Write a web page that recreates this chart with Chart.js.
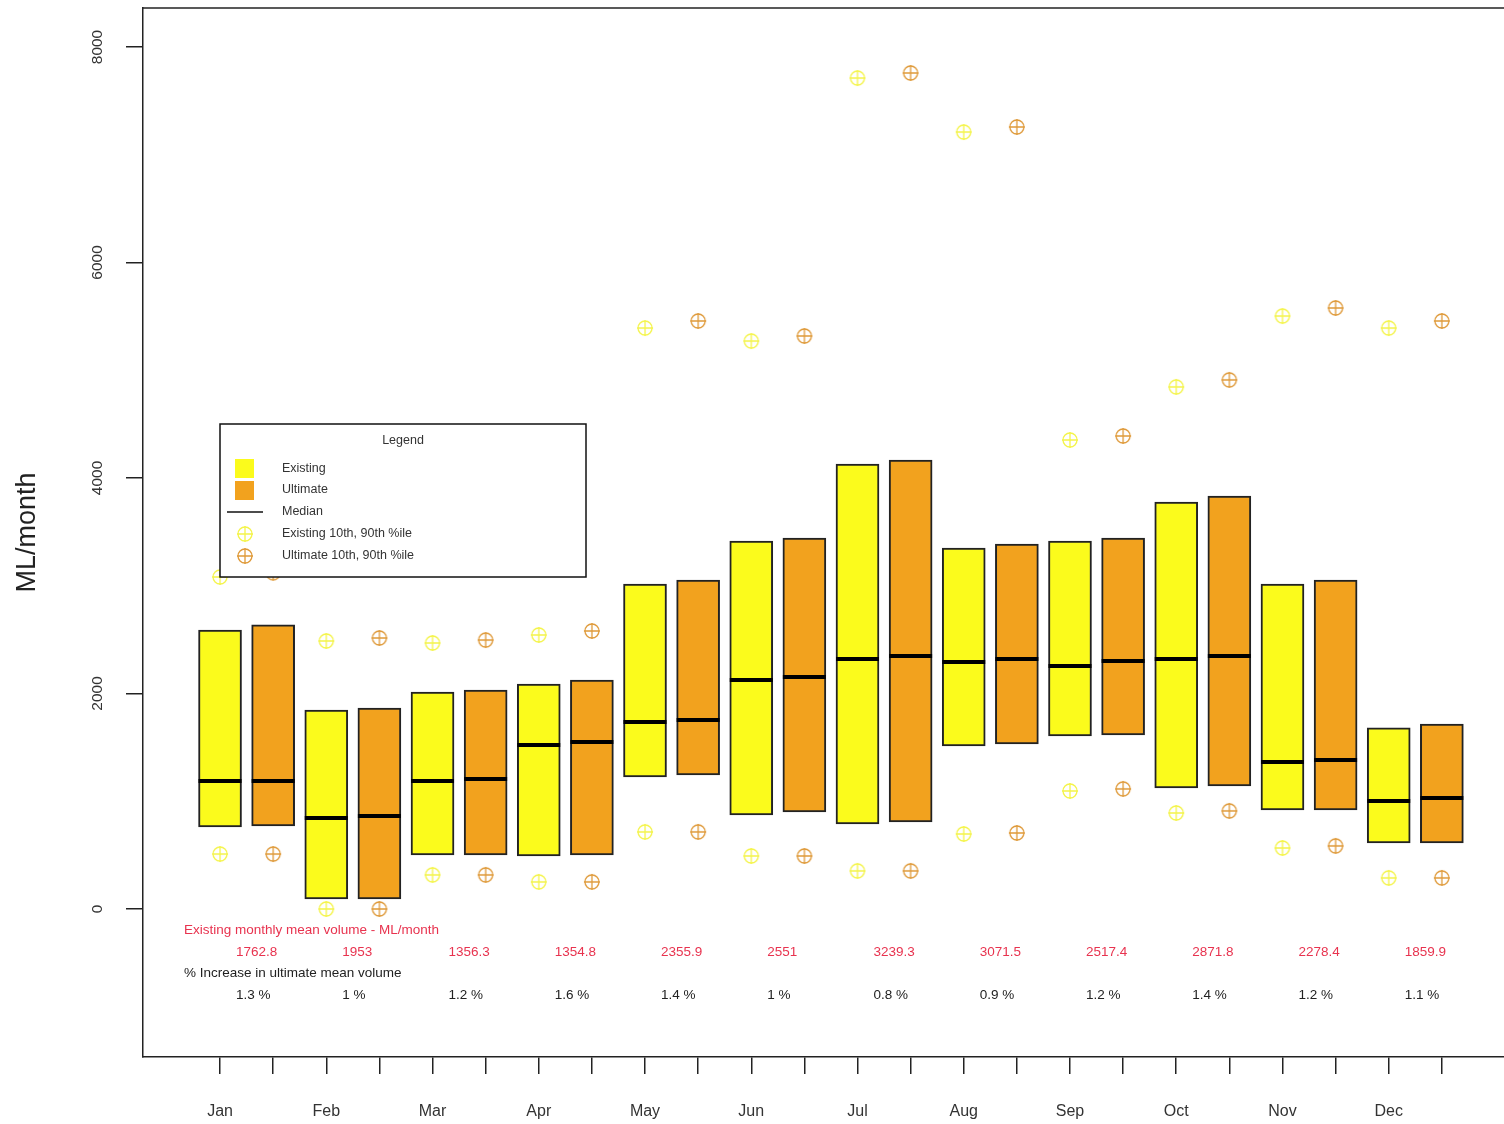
<!DOCTYPE html>
<html>
<head>
<meta charset="utf-8">
<script src="https://cdn.jsdelivr.net/npm/chart.js@4.4.1/dist/chart.umd.min.js"></script>
<style>
  html, body { margin: 0; padding: 0; background: #fff; overflow: hidden; }
  #wrap { width: 1504px; height: 1124px; }
</style>
</head>
<body>
<div id="wrap"><canvas id="volChart" width="1504" height="1124"></canvas></div>
<script>
// monthly volume ranges, existing vs ultimate (ML/month)
var months = ['Jan', 'Feb', 'Mar', 'Apr', 'May', 'Jun', 'Jul', 'Aug', 'Sep', 'Oct', 'Nov', 'Dec'];

var existLow  = [761, 93, 501, 492, 1225, 872, 789, 1513, 1606, 1123, 919, 613];
var existHigh = [2589, 1847, 2014, 2088, 3016, 3415, 4130, 3350, 3415, 3777, 3016, 1680];
var existMed  = [1188, 845, 1188, 1522, 1735, 2125, 2320, 2292, 2255, 2320, 1364, 1002];
var existP10  = [510, 0, 316, 251, 715, 492, 353, 696, 1095, 891, 566, 288];
var existP90  = [3081, 2487, 2469, 2543, 5392, 5271, 7712, 7211, 4353, 4845, 5503, 5392];

var ultLow  = [770, 93, 501, 501, 1244, 900, 807, 1531, 1615, 1142, 919, 613];
var ultHigh = [2636, 1865, 2032, 2125, 3053, 3443, 4167, 3387, 3443, 3833, 3053, 1717];
var ultMed  = [1188, 863, 1206, 1550, 1754, 2153, 2348, 2320, 2302, 2348, 1383, 1030];
var ultP10  = [510, 0, 316, 251, 715, 492, 353, 705, 1114, 910, 585, 288];
var ultP90  = [3120, 2515, 2496, 2580, 5457, 5318, 7759, 7258, 4390, 4910, 5578, 5457];

var meanExisting = ['1762.8', '1953', '1356.3', '1354.8', '2355.9', '2551', '3239.3', '3071.5', '2517.4', '2871.8', '2278.4', '1859.9'];
var pctIncrease = ['1.3 %', '1 %', '1.2 %', '1.6 %', '1.4 %', '1 %', '0.8 %', '0.9 %', '1.2 %', '1.4 %', '1.2 %', '1.1 %'];

var yTicks = [0, 2000, 4000, 6000, 8000];

var YELLOW = '#fbfb1c';
var ORANGE = '#f2a21e';
var FONT = '"Liberation Sans", Arial, sans-serif';

// circle-with-cross marker (like R pch 10)
function makeMarker(color, lw) {
    var c = document.createElement('canvas');
    c.width = 18; c.height = 18;
    var g = c.getContext('2d');
    g.strokeStyle = color;
    g.lineWidth = lw;
    g.beginPath();
    g.arc(9, 9, 7, 0, Math.PI * 2);
    g.stroke();
    g.beginPath();
    g.moveTo(9, 1); g.lineTo(9, 17);
    g.moveTo(1, 9); g.lineTo(17, 9);
    g.stroke();
    return c;
}
var existMarker = makeMarker('#f4f44a', 1.3);
var ultMarker = makeMarker('#df9a3a', 1.3);

// bar index: existing = 1,3,5..., ultimate = 2,4,6...
function rangeData(lo, hi, off) {
    var out = [];
    for (var i = 0; i < lo.length; i++) out.push({ x: 2 * i + 1 + off, y: [lo[i], hi[i]] });
    return out;
}
function pointData(vals, off) {
    var out = [];
    for (var i = 0; i < vals.length; i++) out.push({ x: 2 * i + 1 + off, y: vals[i] });
    return out;
}
function pctData(a, b, off) {
    var out = [];
    for (var i = 0; i < a.length; i++) {
        out.push({ x: 2 * i + 1 + off, y: a[i] });
        out.push({ x: 2 * i + 1 + off, y: b[i] });
    }
    return out;
}

var extrasPlugin = {
    id: 'extras',
    afterDatasetsDraw: function (chart) {
        var ctx = chart.ctx;
        var xs = chart.scales.x, ys = chart.scales.y;
        var area = chart.chartArea;
        ctx.save();

        // top of plot box
        ctx.strokeStyle = '#222';
        ctx.lineWidth = 1.5;
        ctx.beginPath();
        ctx.moveTo(area.left, area.top);
        ctx.lineTo(area.right, area.top);
        ctx.stroke();

        // rotated y tick labels
        ctx.fillStyle = '#333';
        ctx.font = '15.5px ' + FONT;
        ctx.textAlign = 'center';
        ctx.textBaseline = 'middle';
        yTicks.forEach(function (v) {
            ctx.save();
            ctx.translate(98, ys.getPixelForValue(v));
            ctx.rotate(-Math.PI / 2);
            ctx.fillText(String(v), 0, 0);
            ctx.restore();
        });

        // annotation rows under the boxes
        ctx.textAlign = 'left';
        ctx.font = '13.5px ' + FONT;
        ctx.fillStyle = '#e8334f';
        ctx.fillText('Existing monthly mean volume - ML/month', xs.getPixelForValue(0.32), ys.getPixelForValue(-195));
        ctx.fillStyle = '#222';
        ctx.fillText('% Increase in ultimate mean volume', xs.getPixelForValue(0.32), ys.getPixelForValue(-594));
        for (var i = 0; i < months.length; i++) {
            var x = xs.getPixelForValue(2 * i + 1.3);
            ctx.fillStyle = '#e8334f';
            ctx.fillText(meanExisting[i], x, ys.getPixelForValue(-399));
            ctx.fillStyle = '#222';
            ctx.fillText(pctIncrease[i], x, ys.getPixelForValue(-798));
        }

        // legend box
        var lx = 220, ly = 424, lw = 366, lh = 153;
        ctx.fillStyle = '#fff';
        ctx.fillRect(lx, ly, lw, lh);
        ctx.strokeStyle = '#111';
        ctx.lineWidth = 1.5;
        ctx.strokeRect(lx, ly, lw, lh);
        ctx.font = '12.5px ' + FONT;
        ctx.fillStyle = '#333';
        ctx.textAlign = 'center';
        ctx.fillText('Legend', 403, 441);
        ctx.textAlign = 'left';
        ctx.fillStyle = YELLOW;
        ctx.fillRect(235, 459, 19, 19);
        ctx.fillStyle = ORANGE;
        ctx.fillRect(235, 481, 19, 19);
        ctx.strokeStyle = '#111';
        ctx.lineWidth = 1.5;
        ctx.beginPath();
        ctx.moveTo(227, 512);
        ctx.lineTo(263, 512);
        ctx.stroke();
        ctx.drawImage(existMarker, 236, 525);
        ctx.drawImage(ultMarker, 236, 547);
        ctx.fillStyle = '#333';
        ctx.fillText('Existing', 282, 469);
        ctx.fillText('Ultimate', 282, 490);
        ctx.fillText('Median', 282, 512);
        ctx.fillText('Existing 10th, 90th %ile', 282, 534);
        ctx.fillText('Ultimate 10th, 90th %ile', 282, 556);
        ctx.restore();
    }
};

var barCommon = {
    type: 'bar',
    borderColor: '#222',
    borderWidth: 2,
    borderSkipped: false,
    barThickness: 43,
    grouped: false,
    order: 3
};

new Chart(document.getElementById('volChart'), {
    data: {
        datasets: [
            Object.assign({ label: 'Existing', data: rangeData(existLow, existHigh, 0), backgroundColor: YELLOW }, barCommon),
            Object.assign({ label: 'Ultimate', data: rangeData(ultLow, ultHigh, 1), backgroundColor: ORANGE }, barCommon),
            {
                type: 'scatter', label: 'Median',
                data: pointData(existMed, 0).concat(pointData(ultMed, 1)),
                pointStyle: 'line', pointRadius: 21.5, borderWidth: 4,
                borderColor: '#000', backgroundColor: '#000', order: 0
            },
            {
                type: 'scatter', label: 'Existing 10th, 90th %ile',
                data: pctData(existP10, existP90, 0),
                pointStyle: existMarker, order: 1
            },
            {
                type: 'scatter', label: 'Ultimate 10th, 90th %ile',
                data: pctData(ultP10, ultP90, 1),
                pointStyle: ultMarker, order: 1
            }
        ]
    },
    options: {
        responsive: false,
        animation: false,
        layout: { autoPadding: false, padding: { top: 8, right: 0, left: 0, bottom: 0 } },
        plugins: { legend: { display: false }, tooltip: { enabled: false } },
        scales: {
            x: {
                type: 'linear',
                offset: false,
                min: -0.45,
                max: 25.17,
                afterBuildTicks: function (s) {
                    var t = [];
                    for (var i = 1; i <= 24; i++) t.push({ value: i });
                    s.ticks = t;
                },
                afterFit: function (s) { s.height = 67; },
                grid: { offset: false, drawOnChartArea: false, tickLength: 17, color: '#222', lineWidth: 1.5 },
                border: { display: true, color: '#222', width: 1.5 },
                ticks: {
                    autoSkip: false, maxRotation: 0, padding: 28,
                    color: '#333', font: { family: FONT, size: 16 },
                    callback: function (v) { return v % 2 === 1 ? months[(v - 1) / 2] : ''; }
                }
            },
            y: {
                type: 'linear',
                min: -1374,
                max: 8362,
                afterBuildTicks: function (s) {
                    s.ticks = yTicks.map(function (v) { return { value: v }; });
                },
                afterFit: function (s) { s.width = 143; },
                grid: { drawOnChartArea: false, tickLength: 17, color: '#222', lineWidth: 1.5 },
                border: { display: true, color: '#222', width: 1.5 },
                ticks: { display: false },
                title: {
                    display: true, text: 'ML/month', color: '#222',
                    font: { family: FONT, size: 27 }, padding: { top: 11, bottom: 0 }
                }
            }
        }
    },
    plugins: [extrasPlugin]
});
</script>
</body>
</html>
